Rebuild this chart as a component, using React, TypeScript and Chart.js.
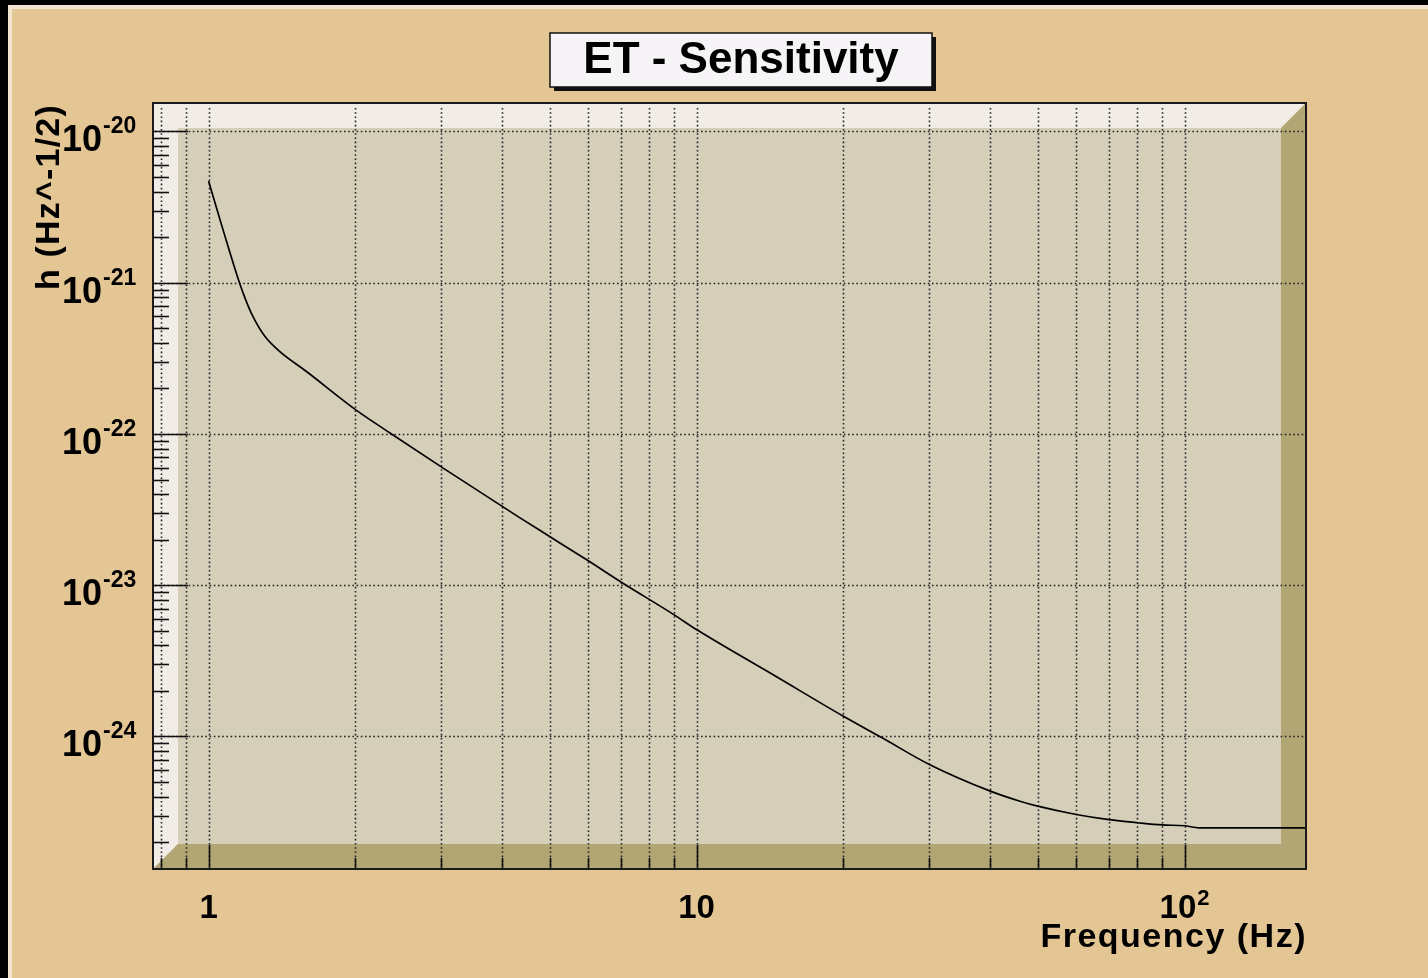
import React, { useEffect, useRef } from "react";
import { Chart, registerables } from "chart.js";

Chart.register(...registerables);

// ---- data ----
const frequencyHz = [1, 1.078, 1.157, 1.191, 1.232, 1.303, 1.398, 1.585, 2.0, 2.35, 3.02, 4.34, 5.0, 6.0, 7.0, 9.0, 10, 14.5, 20, 24, 30, 40, 46, 50, 60, 70, 80, 90, 100, 107, 177];
const strain = [4.7e-21, 2.08e-21, 1.0e-21, 7.74e-22, 6.01e-22, 4.44e-22, 3.52e-22, 2.6e-22, 1.45e-22, 1.02e-22, 5.97e-23, 2.8e-23, 2.1e-23, 1.45e-23, 1.05e-23, 6.37e-24, 5.09e-24, 2.51e-24, 1.36e-24, 9.8e-25, 6.53e-25, 4.35e-25, 3.73e-25, 3.46e-25, 3.05e-25, 2.82e-25, 2.69e-25, 2.6e-25, 2.57e-25, 2.49e-25, 2.49e-25];

const xRange = [0.7694, 177.4];
const yRange = [1.33e-25, 1.543e-20];
const xMajorLabels = [
  { value: 1, base: "1", exp: "" },
  { value: 10, base: "10", exp: "" },
  { value: 100, base: "10", exp: "2" },
];
const yMajorLabels = [
  { value: 1e-20, base: "10", exp: "-20" },
  { value: 1e-21, base: "10", exp: "-21" },
  { value: 1e-22, base: "10", exp: "-22" },
  { value: 1e-23, base: "10", exp: "-23" },
  { value: 1e-24, base: "10", exp: "-24" },
];
const titleText = "ET - Sensitivity";
const xTitle = "Frequency (Hz)";
const yTitle = "h (Hz^-1/2)";

const W = 1428;
const H = 978;
const FONT = "'Liberation Sans', Arial, Helvetica, sans-serif";

function logTicks(min: number, max: number) {
  const out: { v: number; major: boolean }[] = [];
  const n0 = Math.floor(Math.log10(min));
  const n1 = Math.ceil(Math.log10(max));
  for (let n = n0; n <= n1; n++) {
    for (let k = 1; k <= 9; k++) {
      const v = k * Math.pow(10, n);
      if (v >= min * 0.9999 && v <= max * 1.0001) out.push({ v, major: k === 1 });
    }
  }
  return out;
}

const rootFrame = {
  id: "rootFrame",
  beforeDraw(chart: any) {
    const ctx = chart.ctx as CanvasRenderingContext2D;
    const { left, right, top, bottom } = chart.chartArea;
    ctx.save();
    ctx.fillStyle = "#E4C695";
    ctx.fillRect(0, 0, W, H);
    ctx.fillStyle = "#000";
    ctx.fillRect(0, 0, W, 5);
    ctx.fillRect(0, 0, 8, H);
    ctx.fillStyle = "#F1E5D1";
    ctx.fillRect(8, 5, W - 8, 4);
    ctx.fillRect(8, 5, 4, H - 5);

    // plot pad
    const d = 25;
    ctx.fillStyle = "#D5CFB9";
    ctx.fillRect(left, top, right - left, bottom - top);
    ctx.fillStyle = "#F1ECE6";
    ctx.beginPath();
    ctx.moveTo(left, top);
    ctx.lineTo(right, top);
    ctx.lineTo(right - d, top + d);
    ctx.lineTo(left + d, top + d);
    ctx.lineTo(left + d, bottom - d);
    ctx.lineTo(left, bottom);
    ctx.closePath();
    ctx.fill();
    ctx.fillStyle = "#B2A674";
    ctx.beginPath();
    ctx.moveTo(right, top);
    ctx.lineTo(right, bottom);
    ctx.lineTo(left, bottom);
    ctx.lineTo(left + d, bottom - d);
    ctx.lineTo(right - d, bottom - d);
    ctx.lineTo(right - d, top + d);
    ctx.closePath();
    ctx.fill();
    ctx.restore();
  },
  beforeDatasetsDraw(chart: any) {
    const ctx = chart.ctx as CanvasRenderingContext2D;
    const { left, right, top, bottom } = chart.chartArea;
    const xs = chart.scales.x;
    const ys = chart.scales.y;
    ctx.save();
    ctx.strokeStyle = "#222";
    ctx.lineWidth = 1.6;
    ctx.setLineDash([1.6, 2.6]);
    for (const t of logTicks(xRange[0], xRange[1])) {
      const px = Math.round(xs.getPixelForValue(t.v)) + 0.5;
      ctx.beginPath();
      ctx.moveTo(px, top + 5);
      ctx.lineTo(px, bottom);
      ctx.stroke();
    }
    for (const t of logTicks(yRange[0], yRange[1])) {
      if (!t.major) continue;
      const py = Math.round(ys.getPixelForValue(t.v)) + 0.5;
      ctx.beginPath();
      ctx.moveTo(left + 2, py);
      ctx.lineTo(right, py);
      ctx.stroke();
    }
    ctx.restore();
  },
  afterDatasetsDraw(chart: any) {
    const ctx = chart.ctx as CanvasRenderingContext2D;
    const { left, right, top, bottom } = chart.chartArea;
    const xs = chart.scales.x;
    const ys = chart.scales.y;
    ctx.save();
    // frame
    ctx.strokeStyle = "#1a1a1a";
    ctx.lineWidth = 2;
    ctx.strokeRect(left, top, right - left, bottom - top);

    // ticks
    ctx.strokeStyle = "#111";
    ctx.lineWidth = 1.6;
    for (const t of logTicks(xRange[0], xRange[1])) {
      const px = Math.round(xs.getPixelForValue(t.v)) + 0.5;
      ctx.beginPath();
      ctx.moveTo(px, bottom);
      ctx.lineTo(px, bottom - (t.major ? 24 : 11));
      ctx.stroke();
    }
    for (const t of logTicks(yRange[0], yRange[1])) {
      const py = Math.round(ys.getPixelForValue(t.v)) + 0.5;
      ctx.beginPath();
      ctx.moveTo(left, py);
      ctx.lineTo(left + (t.major ? 35 : 16), py);
      ctx.stroke();
    }

    ctx.fillStyle = "#000";
    ctx.textBaseline = "alphabetic";
    // y labels
    for (const l of yMajorLabels) {
      const py = ys.getPixelForValue(l.value);
      ctx.font = `bold 36px ${FONT}`;
      ctx.textAlign = "right";
      ctx.fillText(l.base, 102, py + 20);
      ctx.font = `bold 23px ${FONT}`;
      ctx.textAlign = "left";
      ctx.fillText(l.exp, 103, py + 2);
    }
    // x labels
    for (const l of xMajorLabels) {
      const px = xs.getPixelForValue(l.value);
      ctx.font = `bold 33px ${FONT}`;
      const wb = ctx.measureText(l.base).width;
      ctx.font = `bold 22px ${FONT}`;
      const we = l.exp ? ctx.measureText(l.exp).width + 1 : 0;
      const x0 = px - (wb + we) / 2;
      ctx.textAlign = "left";
      ctx.font = `bold 33px ${FONT}`;
      ctx.fillText(l.base, x0, 918);
      if (l.exp) {
        ctx.font = `bold 22px ${FONT}`;
        ctx.fillText(l.exp, x0 + wb + 1, 905);
      }
    }
    // axis titles
    ctx.font = `bold 34px ${FONT}`;
    (ctx as any).letterSpacing = "1.5px";
    ctx.textAlign = "right";
    ctx.fillText(xTitle, right + 1, 947);
    ctx.save();
    (ctx as any).letterSpacing = "1.2px";
    ctx.translate(59, top + 1);
    ctx.rotate(-Math.PI / 2);
    ctx.textAlign = "right";
    ctx.fillText(yTitle, 0, 0);
    ctx.restore();
    (ctx as any).letterSpacing = "0px";

    // title box
    const bx = 550, by = 33, bw = 382, bh = 54;
    ctx.fillStyle = "#111";
    ctx.fillRect(bx + 4, by + 4, bw, bh);
    ctx.fillStyle = "#F6F4F7";
    ctx.fillRect(bx, by, bw, bh);
    ctx.strokeStyle = "#111";
    ctx.lineWidth = 1.5;
    ctx.strokeRect(bx, by, bw, bh);
    ctx.fillStyle = "#000";
    ctx.font = `bold 44px ${FONT}`;
    ctx.textAlign = "center";
    ctx.fillText(titleText, bx + bw / 2, 73);
    ctx.restore();
  },
};

export default function App() {
  const ref = useRef<HTMLCanvasElement | null>(null);
  useEffect(() => {
    document.body.style.margin = "0";
    const canvas = ref.current;
    if (!canvas) return;
    const points = frequencyHz.map((f, i) => ({ x: f, y: strain[i] }));
    const chart = new Chart(canvas, {
      type: "scatter",
      data: {
        datasets: [
          {
            data: points,
            showLine: true,
            borderColor: "#000",
            borderWidth: 1.7,
            pointRadius: 0,
            cubicInterpolationMode: "monotone",
          } as any,
        ],
      },
      options: {
        responsive: false,
        animation: false,
        devicePixelRatio: 1,
        layout: { padding: { left: 153, right: W - 1306, top: 103, bottom: H - 869 } },
        plugins: { legend: { display: false }, tooltip: { enabled: false }, title: { display: false } },
        scales: {
          x: {
            type: "logarithmic",
            min: xRange[0],
            max: xRange[1],
            bounds: "data",
            display: false,
            afterBuildTicks: (s: any) => { s.min = xRange[0]; s.max = xRange[1]; },
          } as any,
          y: {
            type: "logarithmic",
            min: yRange[0],
            max: yRange[1],
            bounds: "data",
            display: false,
            afterBuildTicks: (s: any) => { s.min = yRange[0]; s.max = yRange[1]; },
          } as any,
        },
      },
      plugins: [rootFrame],
    });
    return () => chart.destroy();
  }, []);
  return (
    <div style={{ position: "fixed", left: 0, top: 0, width: W, height: H }}>
      <canvas ref={ref} width={W} height={H} style={{ display: "block", width: W, height: H }} />
    </div>
  );
}
